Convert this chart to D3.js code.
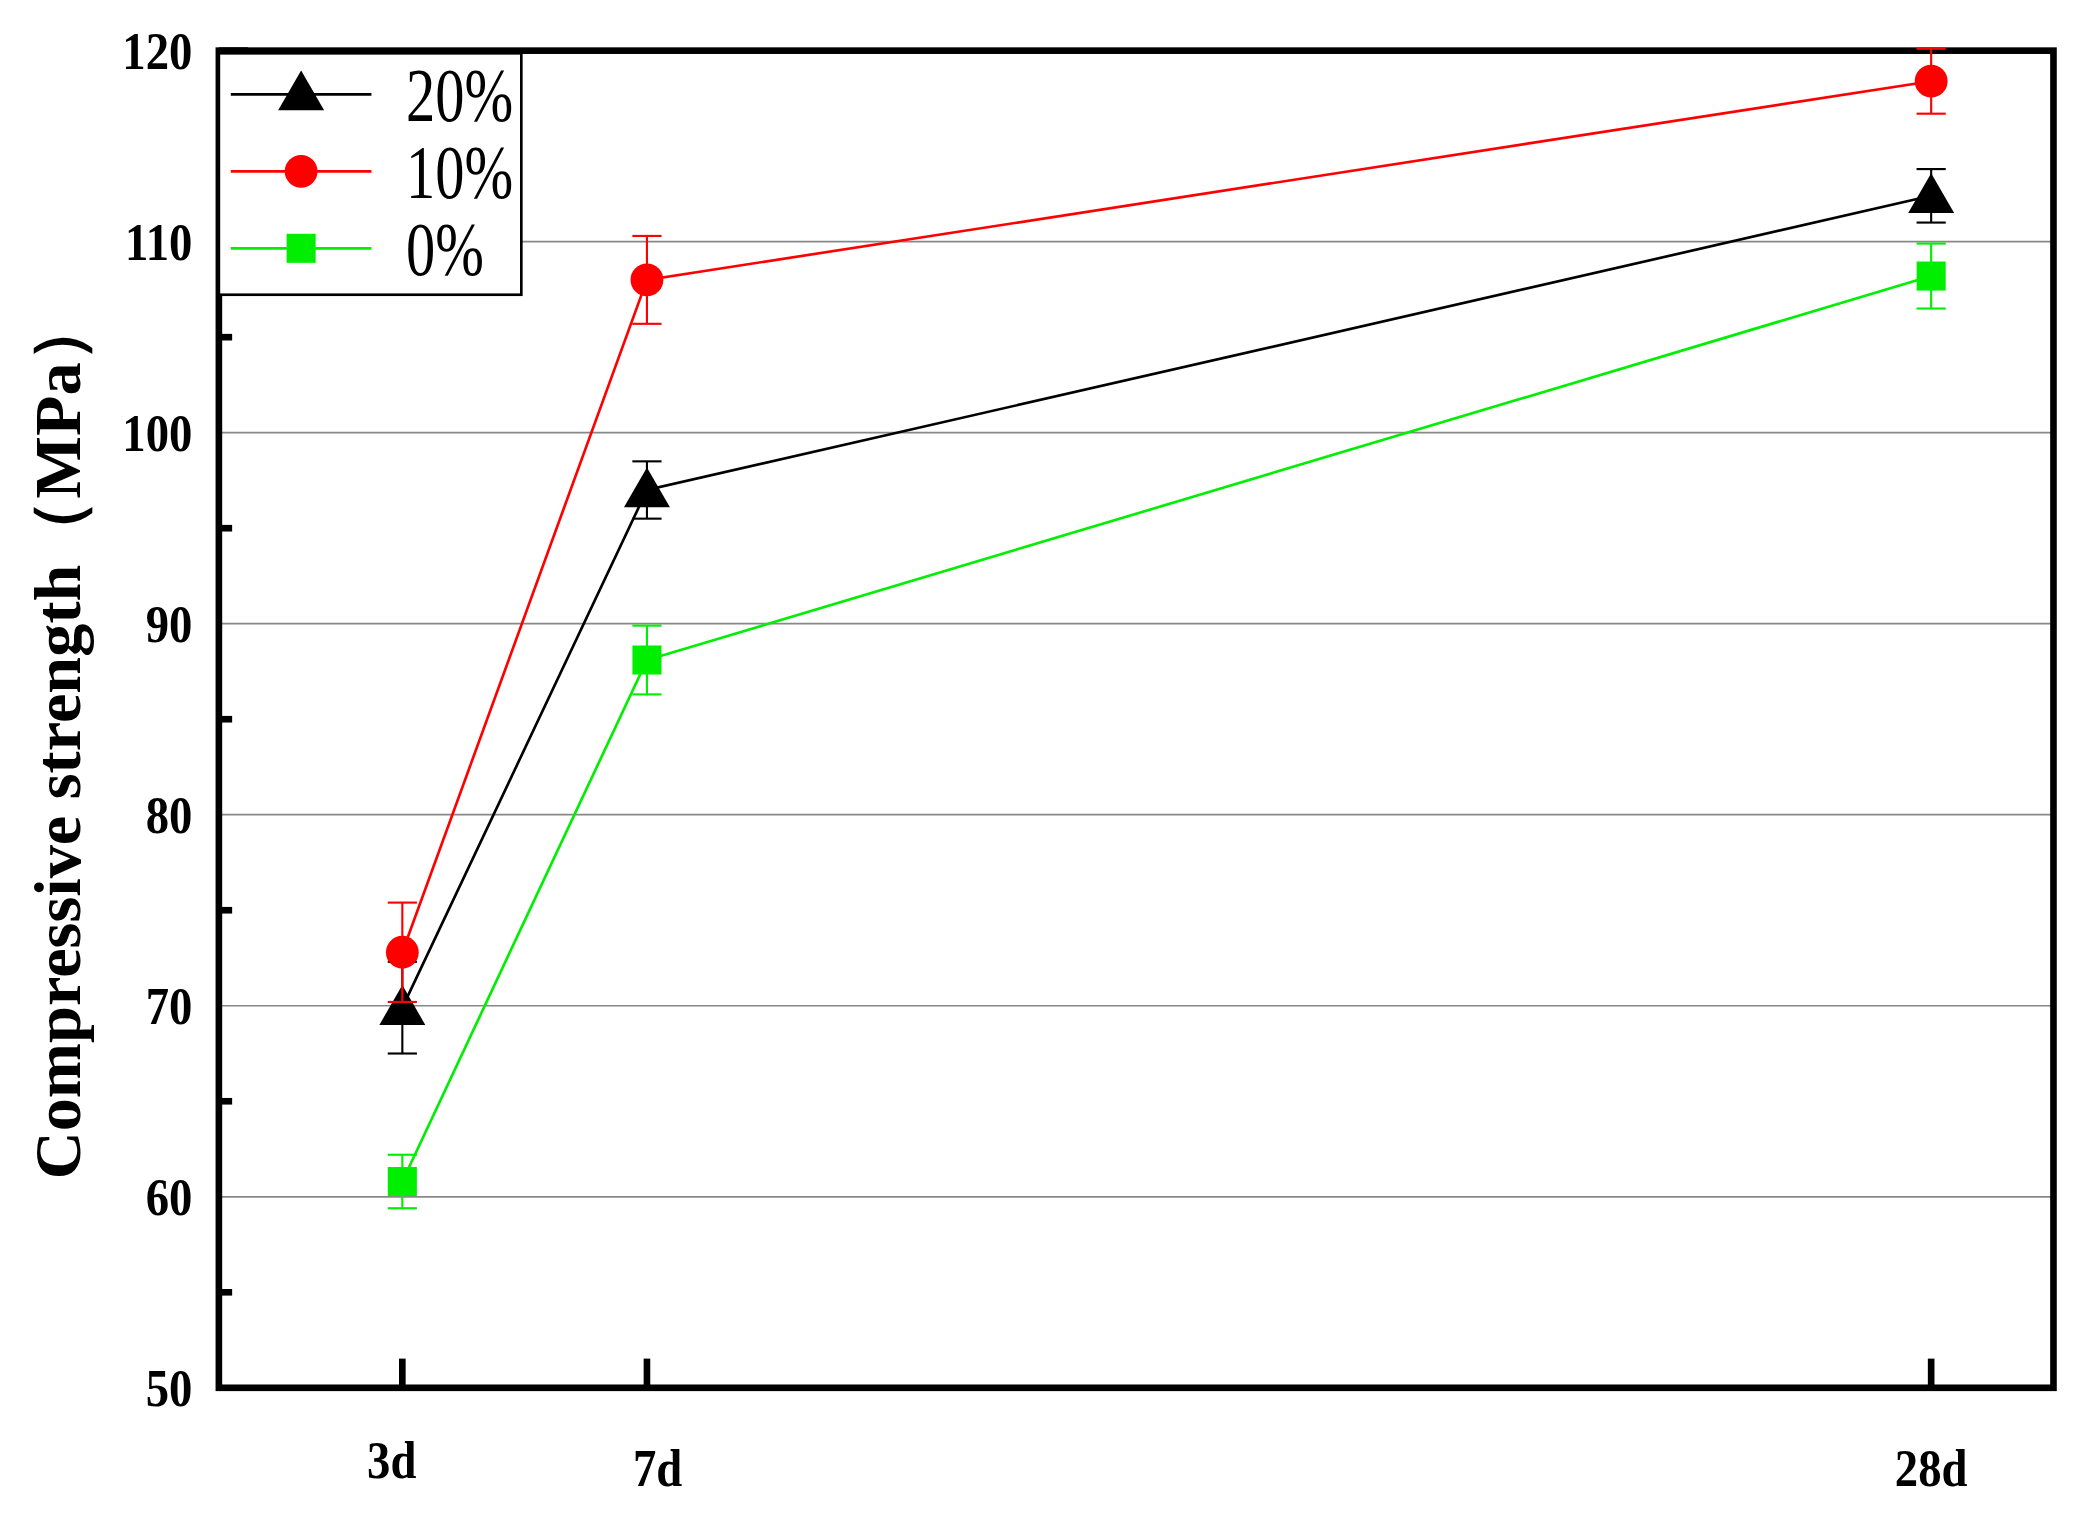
<!DOCTYPE html>
<html><head><meta charset="utf-8">
<script src="https://cdn.jsdelivr.net/npm/d3@7"></script>
<style>body{margin:0;background:#fff}</style>
</head><body><div id="chart"></div>
<script>
// data
var days = [3, 7, 28];
var dayLabels = ["3d", "7d", "28d"];
var s20 = [69.9, 97.0, 112.4], e20 = [2.4, 1.5, 1.4];
var s10 = [72.8, 108.0, 118.4], e10 = [2.6, 2.3, 1.7];
var s0 = [60.8, 88.1, 108.2], e0 = [1.4, 1.8, 1.7];
var yTicks = [50, 60, 70, 80, 90, 100, 110, 120];
var series = [
  {name: "20%", vals: s20, err: e20, color: "#000000", shape: d3.symbolTriangle},
  {name: "10%", vals: s10, err: e10, color: "#ff0000", shape: d3.symbolCircle},
  {name: "0%", vals: s0, err: e0, color: "#00ee00", shape: d3.symbolSquare}
];

// drawn in a 1568x1150 coordinate space, scaled to the window
var svg = d3.select("#chart").append("svg")
  .attr("width", 2080).attr("height", 1526)
  .attr("viewBox", "0 0 1568 1150");

var L = 165, R = 1548, T = 38, B = 1046;
var x = d3.scaleLinear().domain([0, 30]).range([L, R]);
var y = d3.scaleLinear().domain([50, 120]).range([B, T]);
var serif = "'Liberation Serif', Times, serif";

// squeeze text horizontally around its anchor point
function squeeze(sel, k) {
  sel.each(function () {
    var t = d3.select(this), tx = +t.attr("x"), ty = +t.attr("y");
    t.attr("transform", "translate(" + tx + "," + ty + ") scale(" + k + ",1) translate(" + (-tx) + "," + (-ty) + ")");
  });
}

// grid
svg.selectAll("line.grid").data(yTicks.slice(1, -1)).enter().append("line")
  .attr("x1", L).attr("x2", R).attr("y1", d => y(d)).attr("y2", d => y(d))
  .attr("stroke", "#888").attr("stroke-width", 1.3);

// minor y ticks (inward)
svg.selectAll("line.minor").data(d3.range(55, 120, 10)).enter().append("line")
  .attr("x1", L).attr("x2", L + 10).attr("y1", d => y(d)).attr("y2", d => y(d))
  .attr("stroke", "#000").attr("stroke-width", 5);
svg.append("line").attr("x1", L).attr("x2", L + 22).attr("y1", T).attr("y2", T)
  .attr("stroke", "#000").attr("stroke-width", 5);

// x ticks (inward)
svg.selectAll("line.xt").data(days).enter().append("line")
  .attr("x1", d => x(d)).attr("x2", d => x(d)).attr("y1", B).attr("y2", B - 22)
  .attr("stroke", "#000").attr("stroke-width", 5);

// frame
svg.append("rect").attr("x", L).attr("y", T).attr("width", R - L).attr("height", B - T)
  .attr("fill", "none").attr("stroke", "#000").attr("stroke-width", 5);

// y tick labels
svg.selectAll("text.yl").data(yTicks).enter().append("text")
  .attr("x", L - 20).attr("y", d => y(d) + 14).attr("text-anchor", "end")
  .attr("font-family", serif).attr("font-weight", "bold").attr("font-size", 40)
  .text(d => d).call(squeeze, 0.88);

// x tick labels
svg.selectAll("text.xl").data(days).enter().append("text")
  .attr("x", (d, i) => x(d) + [-8, 8, 0][i]).attr("y", (d, i) => [1114, 1120, 1120][i])
  .attr("text-anchor", "middle")
  .attr("font-family", serif).attr("font-weight", "bold").attr("font-size", 40)
  .text((d, i) => dayLabels[i]).call(squeeze, 0.88);

// y axis title
svg.append("text").attr("transform", "translate(60," + ((T + B) / 2 + 14) + ") rotate(-90)")
  .attr("text-anchor", "middle")
  .attr("font-family", serif).attr("font-weight", "bold").attr("font-size", 50)
  .text("Compressive strength（MPa）");

// series
var line = d3.line().x((d, i) => x(days[i])).y(d => y(d));
series.forEach(function (s) {
  var g = svg.append("g");
  g.append("path").attr("d", line(s.vals)).attr("fill", "none")
    .attr("stroke", s.color).attr("stroke-width", 2);
  s.vals.forEach(function (v, i) {
    var cx = x(days[i]);
    g.append("line").attr("x1", cx).attr("x2", cx).attr("y1", y(v - s.err[i])).attr("y2", y(v + s.err[i]))
      .attr("stroke", s.color).attr("stroke-width", 1.6);
    [v - s.err[i], v + s.err[i]].forEach(function (e) {
      g.append("line").attr("x1", cx - 11).attr("x2", cx + 11).attr("y1", y(e)).attr("y2", y(e))
        .attr("stroke", s.color).attr("stroke-width", 1.6);
    });
    g.append("path").attr("d", d3.symbol().type(s.shape).size(s.shape === d3.symbolTriangle ? 520 : 480)())
      .attr("transform", "translate(" + cx + "," + (y(v) + (s.shape === d3.symbolTriangle ? 3 : 0)) + ")")
      .attr("fill", s.color);
  });
});

// legend
svg.append("rect").attr("x", L).attr("y", 40).attr("width", 228).attr("height", 182)
  .attr("fill", "#fff").attr("stroke", "#000").attr("stroke-width", 2);
series.forEach(function (s, i) {
  var ly = 71 + i * 58;
  svg.append("line").attr("x1", 174).attr("x2", 280).attr("y1", ly).attr("y2", ly)
    .attr("stroke", s.color).attr("stroke-width", 2);
  svg.append("path").attr("d", d3.symbol().type(s.shape).size(s.shape === d3.symbolTriangle ? 520 : 480)())
    .attr("transform", "translate(227," + (ly + (s.shape === d3.symbolTriangle ? 2 : 0)) + ")")
    .attr("fill", s.color);
  svg.append("text").attr("x", 306).attr("y", ly + 20)
    .attr("font-family", serif).attr("font-size", 58)
    .text(s.name).call(squeeze, 0.76);
});
</script>
</body></html>
